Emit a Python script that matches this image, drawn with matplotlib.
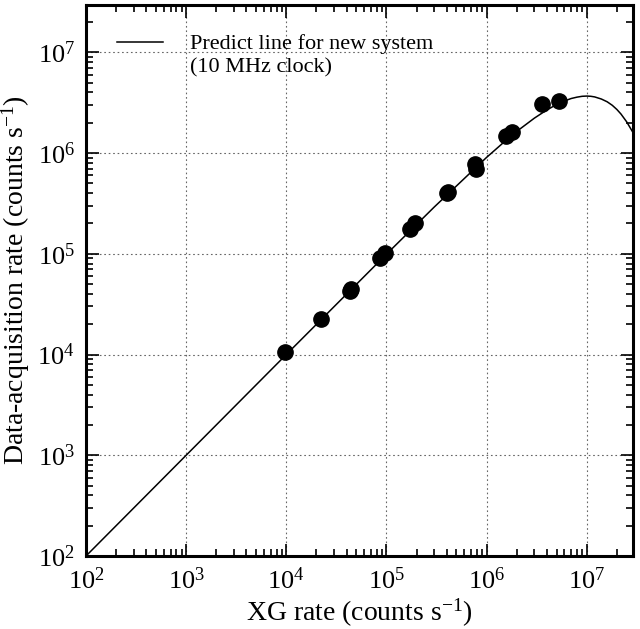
import matplotlib
matplotlib.use("Agg")
import matplotlib.pyplot as plt
from matplotlib.ticker import LogLocator, NullFormatter

# ── data ─────────────────────────────────────────────────────────
xg_rate  = [9.8e3, 2.2e4, 4.3e4, 4.4e4, 8.7e4, 9.7e4, 1.72e5, 1.94e5,
            4.0e5, 4.1e5, 7.65e5, 7.8e5, 1.57e6, 1.79e6, 3.57e6, 5.35e6]
daq_rate = [1.05e4, 2.25e4, 4.3e4, 4.5e4, 9.0e4, 1.02e5, 1.77e5, 2.0e5,
            4.0e5, 4.1e5, 7.7e5, 7.0e5, 1.48e6, 1.63e6, 3.07e6, 3.31e6]

# predicted line for the new system
pred_x = [1e2, 1e3, 1e4, 1e5, 3e5, 1e6, 1.5e6, 2e6, 3e6, 4e6, 5e6, 6e6,
          7e6, 8e6, 9e6, 1e7, 1.1e7, 1.2e7, 1.4e7, 1.6e7, 1.8e7, 2e7,
          2.2e7, 2.5e7, 2.9e7]
pred_y = [1e2, 1e3, 1e4, 9.9e4, 2.91e5, 9.05e5, 1.29e6, 1.64e6, 2.22e6,
          2.68e6, 3.03e6, 3.29e6, 3.48e6, 3.59e6, 3.66e6, 3.68e6, 3.66e6,
          3.61e6, 3.44e6, 3.23e6, 2.98e6, 2.71e6, 2.44e6, 2.05e6, 1.60e6]

legend_lines = ["Predict line for new system", "(10 MHz clock)"]

plt.rcParams["font.family"] = ["Liberation Serif", "DejaVu Serif"]
plt.rcParams["mathtext.fontset"] = "custom"
plt.rcParams["mathtext.rm"] = "Liberation Serif"
plt.rcParams["mathtext.it"] = "Liberation Serif:italic"

fig = plt.figure(figsize=(6.4, 6.29), dpi=100)
ax = fig.add_axes([86 / 640, 73 / 629, 547 / 640, 551 / 629])

ax.plot(pred_x, pred_y, color="black", lw=1.1, label=legend_lines[0])
ax.plot(xg_rate, daq_rate, "o", color="black", ms=11, zorder=3)

ax.set_xscale("log")
ax.set_yscale("log")
ax.set_xlim(1e2, 2.9e7)
ax.set_ylim(1e2, 2.95e7)

for axis in (ax.xaxis, ax.yaxis):
    axis.set_major_locator(LogLocator(base=10, numticks=10))
    axis.set_minor_locator(LogLocator(base=10, subs=range(2, 10), numticks=10))
    axis.set_minor_formatter(NullFormatter())

ax.tick_params(which="both", direction="in", top=True, right=True,
               labelsize=19, width=1.2)
ax.tick_params(which="major", length=9, pad=8)
ax.tick_params(which="minor", length=5)

ax.grid(True, which="major", linestyle=(0, (1.5, 2.5)), color="#666666", lw=0.8)
for sp in ax.spines.values():
    sp.set_linewidth(2.2)

ax.set_xlabel("XG rate (counts s$^{-1}$)", fontsize=20, labelpad=2)
ax.set_ylabel("Data-acquisition rate (counts s$^{-1}$)", fontsize=20, labelpad=4)

# legend: line + first text row, second row added as plain text below
ax.legend(loc="center left", bbox_to_anchor=(0.056, 0.929), frameon=False,
          fontsize=16, handlelength=2.1, handletextpad=1.2, borderaxespad=0,
          borderpad=0)
ax.text(0.190, 0.886, legend_lines[1], transform=ax.transAxes,
        fontsize=16, ha="left", va="center")

plt.savefig("out.png", dpi=100)
plt.close()
